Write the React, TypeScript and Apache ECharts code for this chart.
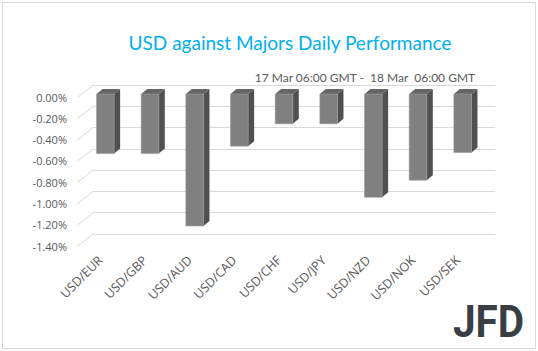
import React, { useEffect, useRef } from "react";
import * as echarts from "echarts";

const categories = ["USD/EUR", "USD/GBP", "USD/AUD", "USD/CAD", "USD/CHF", "USD/JPY", "USD/NZD", "USD/NOK", "USD/SEK"];
const values = [-0.56, -0.56, -1.24, -0.49, -0.28, -0.28, -0.97, -0.81, -0.55];
const yTicks = [0, -0.2, -0.4, -0.6, -0.8, -1.0, -1.2, -1.4];
const titleText = "USD against Majors Daily Performance";
const subtitleText = "17 Mar 06:00 GMT -  18 Mar  06:00 GMT";

const DEPTH_X = 6;
const DEPTH_Y = -5;
const FACE_W = 17.6;

export default function App() {
  const ref = useRef<HTMLDivElement>(null);
  useEffect(() => {
    if (!ref.current) return;
    const chart = echarts.init(ref.current, null, { renderer: "svg" });
    const font = "'Open Sans', sans-serif";
    chart.setOption({
      animation: false,
      backgroundColor: "#ffffff",
      title: [
        {
          text: titleText,
          left: 285,
          top: 28,
          textAlign: "center",
          textStyle: { color: "#00b0f0", fontSize: 19, fontWeight: "normal", fontFamily: "Lato, sans-serif" },
        },
        {
          text: subtitleText,
          right: 57,
          top: 66,
          textStyle: { color: "#595959", fontSize: 12, fontWeight: "normal", fontFamily: "Lato, sans-serif" },
        },
      ],
      grid: [
        { left: 93, top: 85, width: 402, height: 149, containLabel: false },
        { left: 78, top: 97, width: 402, height: 149, containLabel: false },
      ],
      xAxis: [
        {
          gridIndex: 0,
          type: "category",
          data: categories,
          axisLine: { show: false },
          axisTick: { show: false },
          axisLabel: { show: false },
        },
        {
          gridIndex: 1,
          type: "category",
          data: categories,
          axisLine: { show: false },
          axisTick: { show: false },
          axisLabel: { rotate: 45, margin: 12, color: "#595959", fontSize: 12.5, fontFamily: font },
        },
      ],
      yAxis: [
        {
          gridIndex: 0,
          type: "value",
          min: -1.4,
          max: 0,
          interval: 0.2,
          axisLine: { show: false },
          axisTick: { show: false },
          axisLabel: { show: false },
          splitLine: { show: true, lineStyle: { color: "#d9d9d9", width: 1 } },
        },
        {
          gridIndex: 1,
          type: "value",
          min: -1.4,
          max: 0,
          interval: 0.2,
          axisLine: { show: false },
          axisTick: { show: false },
          splitLine: { show: false },
          axisLabel: {
            margin: 11,
            color: "#595959",
            fontSize: 11,
            fontFamily: font,
            formatter: (v: number) => v.toFixed(2) + "%",
          },
        },
      ],
      series: [
        {
          type: "custom",
          xAxisIndex: 0,
          yAxisIndex: 0,
          silent: true,
          data: yTicks.map((t) => [0, t]),
          renderItem: (params: any, api: any) => {
            const y = api.coord([0, api.value(1)])[1];
            const x = params.coordSys.x;
            return {
              type: "line",
              shape: { x1: x, y1: y, x2: x - 15, y2: y + 12 },
              style: { stroke: "#d9d9d9", lineWidth: 1 },
            };
          },
        },
        {
          type: "custom",
          xAxisIndex: 1,
          yAxisIndex: 1,
          silent: true,
          data: values.map((v, i) => [i, v]),
          renderItem: (params: any, api: any) => {
            const i = api.value(0);
            const v = api.value(1);
            const p0 = api.coord([i, 0]);
            const p1 = api.coord([i, v]);
            const cx = p0[0] + 5;
            const yTop = p0[1] - 3;
            const yBot = p1[1] - 3;
            const x0 = cx - FACE_W / 2;
            const x1 = cx + FACE_W / 2;
            return {
              type: "group",
              children: [
                {
                  type: "polygon",
                  shape: {
                    points: [
                      [x1, yTop],
                      [x1 + DEPTH_X, yTop + DEPTH_Y],
                      [x1 + DEPTH_X, yBot + DEPTH_Y],
                      [x1, yBot],
                    ],
                  },
                  style: { fill: "#505050" },
                },
                {
                  type: "polygon",
                  shape: {
                    points: [
                      [x0, yTop],
                      [x0 + DEPTH_X, yTop + DEPTH_Y],
                      [x1 + DEPTH_X, yTop + DEPTH_Y],
                      [x1, yTop],
                    ],
                  },
                  style: { fill: "#656565" },
                },
                {
                  type: "rect",
                  shape: { x: x0, y: yTop, width: FACE_W, height: yBot - yTop },
                  style: { fill: "#808080", stroke: "#9a9a9a", lineWidth: 0.6 },
                },
              ],
            };
          },
        },
      ],
      graphic: [
        {
          type: "rect",
          shape: { x: 2.5, y: 2.5, width: 533, height: 346 },
          style: { fill: "none", stroke: "#d9d9d9", lineWidth: 1 },
          silent: true,
        },
        {
          type: "text",
          x: 453,
          y: 299,
          scaleX: 0.9,
          style: {
            text: "JFD",
            fill: "#3a3f46",
            font: "bold 45px Roboto, sans-serif",
            textVerticalAlign: "top",
          },
          silent: true,
        },
      ],
    });
    return () => chart.dispose();
  }, []);
  return <div ref={ref} style={{ position: "fixed", left: 0, top: 0, width: 538, height: 351 }} />;
}
